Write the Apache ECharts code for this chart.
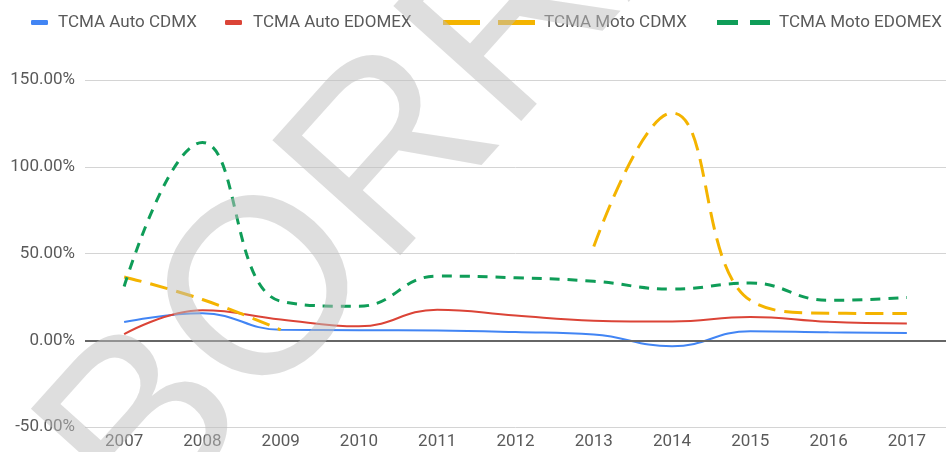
<!DOCTYPE html>
<html>
<head>
<meta charset="utf-8">
<script src="https://cdn.jsdelivr.net/npm/echarts@6/dist/echarts.min.js"></script>
<style>
  html, body { margin: 0; padding: 0; background: #ffffff; }
  #chart { width: 946px; height: 452px; }
</style>
</head>
<body>
<div id="chart"></div>
<script>
// Tasa de crecimiento media anual (TCMA), 2007-2017
const years = ['2007', '2008', '2009', '2010', '2011', '2012', '2013', '2014', '2015', '2016', '2017'];
const autoCdmx   = [10.5, 15.5, 6.0, 5.8, 5.6, 4.7, 3.3, -3.5, 5.2, 4.6, 4.2];
const autoEdomex = [3.5, 17.3, 12.0, 8.0, 17.6, 14.2, 11.3, 10.8, 13.4, 10.6, 9.6];
const motoCdmx   = [36.5, 23.5, 6.0, null, null, null, 54.0, 131.0, 23.0, 15.6, 15.4];
const motoEdomex = [31.0, 114.0, 22.5, 19.6, 37.0, 36.0, 34.0, 29.5, 33.0, 23.0, 24.6];
const seriesNames = ['TCMA Auto CDMX', 'TCMA Auto EDOMEX', 'TCMA Moto CDMX', 'TCMA Moto EDOMEX'];
const yTicks = { min: -50, max: 150, step: 50 };

const colors = ['#4285F4', '#DB4437', '#F4B400', '#0F9D58'];
const font = 'Roboto, "Noto Sans", sans-serif';
const textGrey = '#5a5a5a';

const chart = echarts.init(document.getElementById('chart'), null, { renderer: 'canvas' });

function legendAt(name, left, icon, width, padLeft) {
  return {
    data: [{ name: name, icon: icon }],
    left: left,
    top: 9,
    itemWidth: width,
    itemHeight: 5,
    itemStyle: { borderWidth: 0 },
    lineStyle: { width: 0 },
    selectedMode: false,
    textStyle: { fontFamily: font, fontSize: 17, color: textGrey, padding: [0, 0, 0, padLeft] }
  };
}

const option = {
  backgroundColor: '#ffffff',
  animation: false,
  color: colors,
  legend: [
    legendAt(seriesNames[0], 26, 'roundRect', 17, 5),
    legendAt(seriesNames[1], 220, 'roundRect', 17, 6),
    legendAt(seriesNames[2], 438, 'path://M0,0h37v5h-37zM55,0h37v5h-37z', 92, 4),
    legendAt(seriesNames[3], 712, 'path://M0,0h21v5h-21zM33,0h20v5h-20z', 53, 4)
  ],
  grid: { left: 85, top: 80, width: 873, height: 347, containLabel: false },
  xAxis: {
    type: 'category',
    data: years,
    boundaryGap: true,
    axisLine: { show: false },
    axisTick: { show: false },
    axisLabel: { margin: 6, fontFamily: font, fontSize: 17, color: textGrey },
    splitLine: { show: false }
  },
  yAxis: {
    type: 'value',
    min: yTicks.min,
    max: yTicks.max,
    interval: yTicks.step,
    axisLine: { show: false },
    axisTick: { show: false },
    axisLabel: {
      margin: 10,
      fontFamily: font, fontSize: 17, color: textGrey,
      formatter: v => v.toFixed(2) + '%'
    },
    splitLine: { lineStyle: { color: '#d4d4d4', width: 1 } }
  },
  series: [
    {
      name: seriesNames[0], type: 'line', data: autoCdmx, smooth: 0.45,
      showSymbol: false, symbol: 'none', z: 4,
      lineStyle: { color: colors[0], width: 2 },
      markLine: {
        silent: true, symbol: 'none', label: { show: false },
        lineStyle: { color: '#666666', width: 2, type: 'solid' },
        data: [{ yAxis: 0 }]
      }
    },
    {
      name: seriesNames[1], type: 'line', data: autoEdomex, smooth: 0.45,
      showSymbol: false, symbol: 'none', z: 4,
      lineStyle: { color: colors[1], width: 2 }
    },
    {
      name: seriesNames[2], type: 'line', data: motoCdmx, smooth: 0.45,
      showSymbol: false, symbol: 'none', connectNulls: false, z: 4,
      lineStyle: { color: colors[2], width: 3, type: [18, 9] }
    },
    {
      name: seriesNames[3], type: 'line', data: motoEdomex, smooth: 0.45,
      showSymbol: false, symbol: 'none', z: 4,
      lineStyle: { color: colors[3], width: 3, type: [10, 8] }
    }
  ],
  graphic: [
    {
      type: 'text',
      silent: true,
      z: 100,
      x: 577, y: -44,
      rotation: 48 * Math.PI / 180,
      style: {
        text: 'BORRADOR',
        font: '250px "Liberation Sans", Arial, sans-serif',
        fill: 'rgba(190,190,190,0.5)',
        align: 'center',
        verticalAlign: 'middle'
      }
    }
  ]
};

chart.setOption(option);
</script>
</body>
</html>
